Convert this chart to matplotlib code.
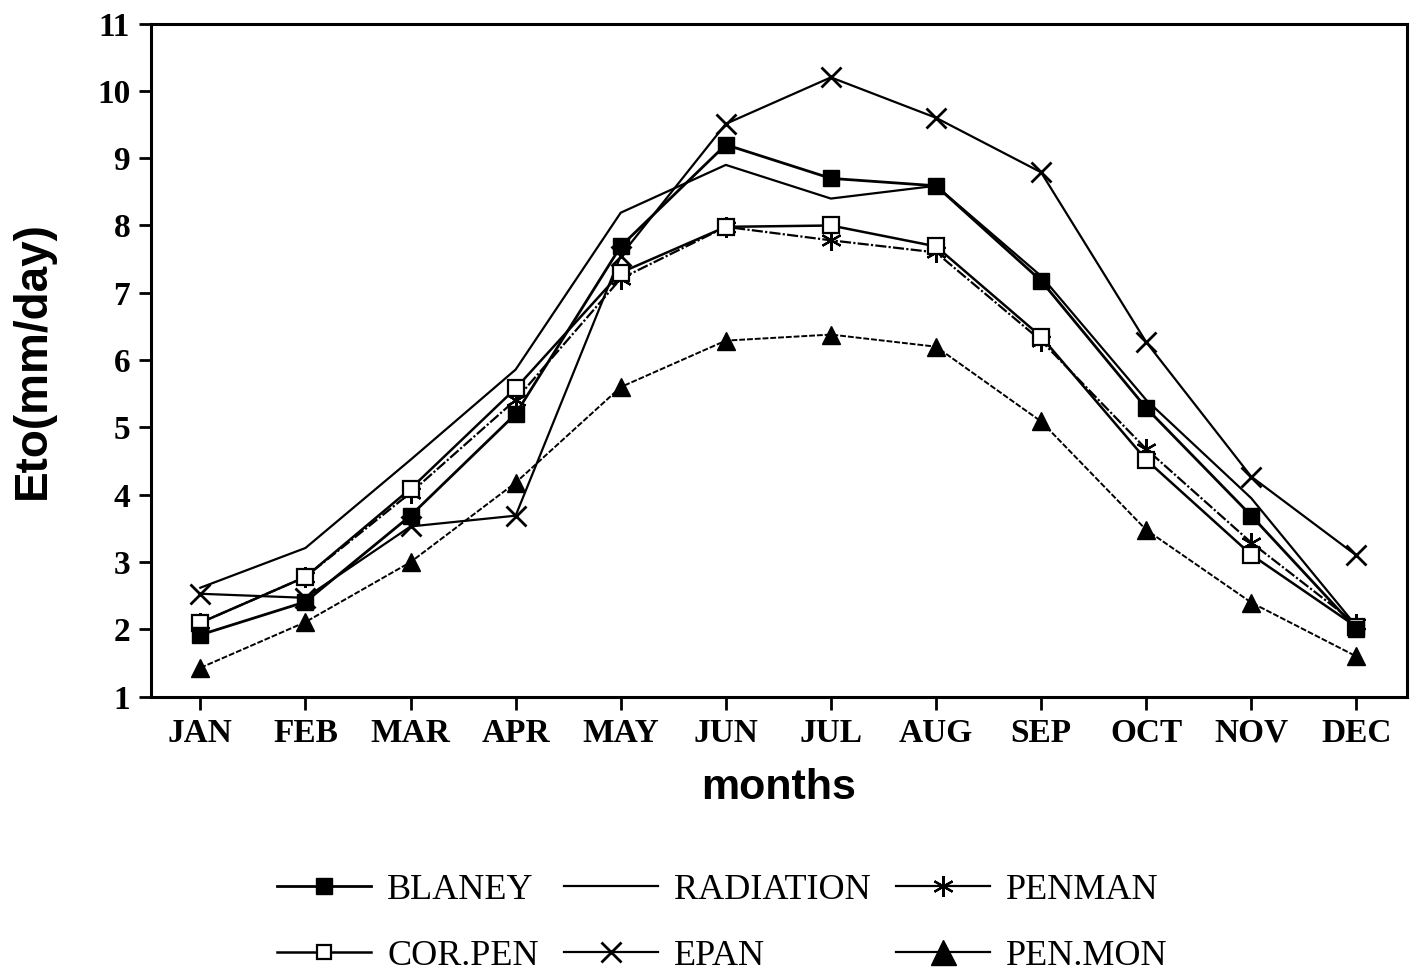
import numpy as np
import matplotlib.pyplot as plt
from matplotlib.lines import Line2D

months = ['JAN', 'FEB', 'MAR', 'APR', 'MAY', 'JUN', 'JUL', 'AUG', 'SEP', 'OCT', 'NOV', 'DEC']

blaney = [1.92, 2.41, 3.69, 5.20, 7.69, 9.20, 8.70, 8.59, 7.18, 5.29, 3.69, 2.01]
radiation = [2.62, 3.21, 4.52, 5.86, 8.19, 8.90, 8.40, 8.59, 7.25, 5.41, 3.95, 2.05]
penman = [2.10, 2.78, 4.03, 5.41, 7.21, 7.98, 7.78, 7.60, 6.29, 4.68, 3.29, 2.08]
corpen = [2.10, 2.78, 4.09, 5.58, 7.30, 7.98, 8.00, 7.69, 6.35, 4.52, 3.11, 2.04]
epan = [2.53, 2.47, 3.53, 3.69, 7.55, 9.51, 10.20, 9.60, 8.79, 6.27, 4.27, 3.10]
penmon = [1.43, 2.11, 3.00, 4.18, 5.60, 6.29, 6.38, 6.20, 5.09, 3.48, 2.40, 1.60]

x = np.arange(len(months))

fig = plt.figure(figsize=(14.11, 9.8), dpi=100)
ax = fig.add_axes([0.107, 0.289, 0.890, 0.687])

ax.plot(x, radiation, '-', color='black', lw=1.6)
ax.plot(x, penmon, color='black', lw=1.4, ls=(0, (3, 1)), marker='^', ms=13)
ax.plot(x, epan, '-', color='black', lw=1.6, marker='x', ms=15, mew=2)
ax.plot(x, penman, color='black', lw=1.6, ls=(0, (5, 1, 1, 1)), marker=(6, 2, 0), ms=15, mew=1.6)
ax.plot(x, corpen, '-', color='black', lw=1.8, marker='s', ms=12, mfc='white', mew=1.6)
ax.plot(x, blaney, '-', color='black', lw=2.0, marker='s', ms=12)

ax.set_xlim(-0.47, 11.48)
ax.set_ylim(1, 11)
ax.set_xticks(x)
ax.set_xticklabels(months)
ax.set_yticks(range(1, 12))

for s in ax.spines.values():
    s.set_linewidth(2.2)
ax.tick_params(direction='out', length=9, width=2, pad=6)
for lab in ax.get_xticklabels() + ax.get_yticklabels():
    lab.set_family('Liberation Serif')
    lab.set_weight('bold')
    lab.set_fontsize(24)

ax.set_xlabel('months', fontsize=31, fontweight='bold', family='Liberation Sans', labelpad=14)
ax.set_ylabel('Eto(mm/day)', fontsize=33, fontweight='bold', family='Liberation Sans', labelpad=30)

# legend keys are drawn solid, as in the original
handles = [
    Line2D([], [], color='black', lw=2.0, marker='s', ms=12),
    Line2D([], [], color='black', lw=1.8, marker='s', ms=10, mfc='white', mew=1.6),
    Line2D([], [], color='black', lw=1.6),
    Line2D([], [], color='black', lw=1.6, marker='x', ms=15, mew=2),
    Line2D([], [], color='black', lw=1.6, marker=(6, 2, 0), ms=15, mew=1.6),
    Line2D([], [], color='black', lw=1.6, marker='^', ms=18),
]
labels = ['BLANEY', 'COR.PEN', 'RADIATION', 'EPAN', 'PENMAN', 'PEN.MON']
fig.legend(handles, labels, loc='center', bbox_to_anchor=(0.512, 0.058), ncol=3, frameon=False,
           prop={'family': 'Liberation Serif', 'size': 26}, handlelength=2.6,
           handletextpad=0.45, columnspacing=0.7, labelspacing=0.9)

fig.savefig('out.png', dpi=100)
